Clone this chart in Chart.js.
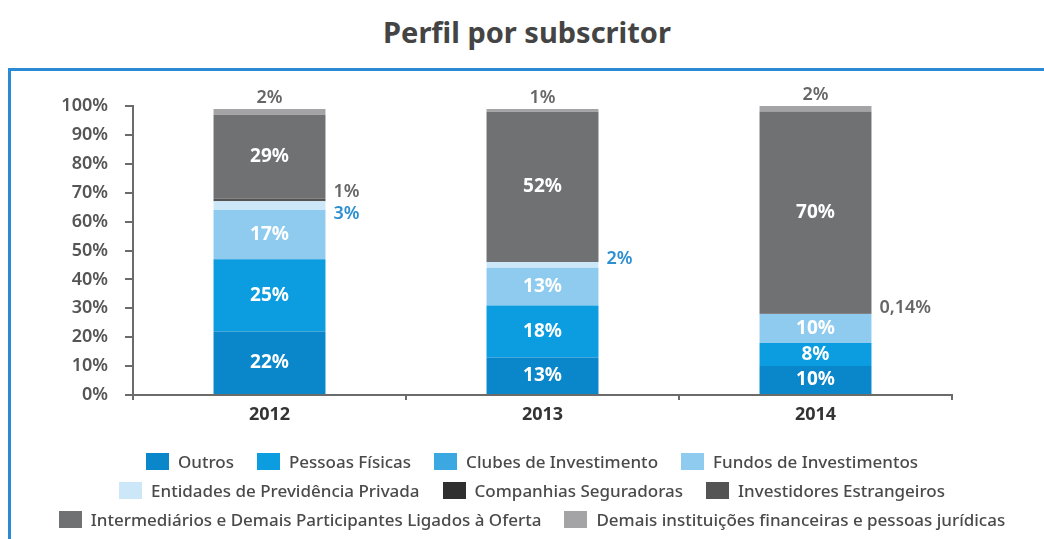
<!DOCTYPE html>
<html>
<head>
<meta charset="utf-8">
<script src="https://cdn.jsdelivr.net/npm/chart.js@4.4.1/dist/chart.umd.min.js"></script>
<style>
  html, body { margin: 0; padding: 0; background: #fff; }
  body { width: 1044px; height: 539px; position: relative; overflow: hidden; font-family: 'Noto Sans', sans-serif; }
  .title { position: absolute; left: 0; width: 1054px; top: 12px; text-align: center; font-size: 29px; font-weight: bold; color: #444; }
  .frame { position: absolute; left: 8px; top: 68px; width: 1100px; height: 600px; border-top: 3px solid #2a8ad3; border-left: 3px solid #2a8ad3; }
  #wrap { position: absolute; left: 0; top: 0; width: 1044px; height: 539px; }
  #legend { position: absolute; left: 37px; top: 453px; width: 990px; display: flex; flex-wrap: wrap; justify-content: center; row-gap: 12px; column-gap: 23px; }
  .item { display: flex; align-items: center; height: 17px; line-height: 17px; font-size: 17px; color: #4a4a4a; font-weight: 500; white-space: nowrap; }
  .box { width: 23px; height: 17px; margin-right: 9px; }
</style>
</head>
<body>
<div class="title">Perfil por subscritor</div>
<div class="frame"></div>
<div id="wrap"><canvas id="chart"></canvas></div>
<div id="legend"></div>
<script>
// data (percent of each year's subscription)
const years = ['2012', '2013', '2014'];
const seriesNames = [
  'Outros',
  'Pessoas Físicas',
  'Clubes de Investimento',
  'Fundos de Investimentos',
  'Entidades de Previdência Privada',
  'Companhias Seguradoras',
  'Investidores Estrangeiros',
  'Intermediários e Demais Participantes Ligados à Oferta',
  'Demais instituições financeiras e pessoas jurídicas'
];
const outros = [22, 13, 10];
const pessoasFisicas = [25, 18, 8];
const clubes = [0, 0, 0];
const fundos = [17, 13, 10];
const entidades = [3, 2, 0];
const seguradoras = [0, 0, 0];
const estrangeiros = [1, 0, 0.14];
const intermediarios = [29, 52, 70];
const demais = [2, 1, 2];
const yTicks = [0, 10, 20, 30, 40, 50, 60, 70, 80, 90, 100];

const seriesValues = [outros, pessoasFisicas, clubes, fundos, entidades, seguradoras, estrangeiros, intermediarios, demais];
const colors = ['#0a86cb', '#0b9ddf', '#3ba8e2', '#8fcbef', '#cce7f8', '#2f2f2f', '#545454', '#707173', '#a4a4a6'];
// colour of the small labels written beside the bars
const sideColors = ['#666', '#666', '#2c8fd1', '#2c8fd1', '#2c8fd1', '#666', '#666', '#666', '#666'];

const FONT = "'Noto Sans', sans-serif";
const fmt = v => String(v).replace('.', ',') + '%';

const valueLabels = {
  id: 'valueLabels',
  afterDatasetsDraw(chart) {
    const ctx = chart.ctx;
    const last = chart.data.datasets.length - 1;
    const side = {};
    ctx.save();
    chart.data.datasets.forEach((ds, i) => {
      chart.getDatasetMeta(i).data.forEach((bar, j) => {
        const v = ds.data[j];
        if (!v) return;
        const mid = (bar.y + bar.base) / 2;
        if (i === last) {
          ctx.font = '600 18px ' + FONT;
          ctx.fillStyle = '#666';
          ctx.textAlign = 'center';
          ctx.textBaseline = 'middle';
          ctx.fillText(fmt(v), bar.x, bar.y - 11);
        } else if (v >= 5) {
          ctx.font = 'bold 19px ' + FONT;
          ctx.fillStyle = '#fff';
          ctx.textAlign = 'center';
          ctx.textBaseline = 'middle';
          ctx.fillText(fmt(v), bar.x, mid);
        } else {
          (side[j] = side[j] || []).push({ text: fmt(v), x: bar.x + bar.width / 2 + 8, y: mid - 6, color: sideColors[i] });
        }
      });
    });
    // spread labels that sit beside the same bar
    Object.values(side).forEach(list => {
      list.sort((a, b) => a.y - b.y);
      if (list.length > 1) {
        const m = list.reduce((s, l) => s + l.y, 0) / list.length + 6;
        list.forEach((l, k) => { l.y = m + (k - (list.length - 1) / 2) * 22; });
      }
      list.forEach(l => {
        ctx.font = '600 18px ' + FONT;
        ctx.fillStyle = l.color;
        ctx.textAlign = 'left';
        ctx.textBaseline = 'middle';
        ctx.fillText(l.text, l.x, l.y);
      });
    });
    ctx.restore();
  }
};

const datasets = seriesNames.map((name, i) => ({
  label: name,
  data: seriesValues[i],
  backgroundColor: colors[i],
  borderWidth: 0,
  barPercentage: 0.41,
  categoryPercentage: 1
}));

const chart = new Chart(document.getElementById('chart'), {
  type: 'bar',
  data: { labels: years, datasets: datasets },
  plugins: [valueLabels],
  options: {
    responsive: true,
    maintainAspectRatio: false,
    animation: false,
    layout: { padding: { left: 10, right: 92, top: 106, bottom: 114 } },
    plugins: {
      legend: { display: false },
      tooltip: { enabled: false }
    },
    scales: {
      x: {
        stacked: true,
        afterFit: s => { s.height = 30; },
        grid: { drawOnChartArea: false, tickLength: 5, color: '#6b6b6b', lineWidth: 2 },
        border: { color: '#6b6b6b', width: 2 },
        ticks: { color: '#333', padding: 4, font: { family: FONT, size: 18, weight: 'bold' } }
      },
      y: {
        stacked: true,
        min: 0,
        max: 100,
        afterFit: s => { s.width = 123; },
        afterBuildTicks: s => { s.ticks = yTicks.map(v => ({ value: v })); },
        grid: { drawOnChartArea: false, tickLength: 8, color: '#6b6b6b', lineWidth: 2 },
        border: { color: '#6b6b6b', width: 2 },
        ticks: {
          color: '#555',
          padding: 17,
          font: { family: FONT, size: 18, weight: '600' },
          callback: v => v + '%'
        }
      }
    }
  }
});

// legend built from the chart's datasets
const legend = document.getElementById('legend');
chart.data.datasets.forEach(ds => {
  const item = document.createElement('div');
  item.className = 'item';
  const box = document.createElement('span');
  box.className = 'box';
  box.style.background = ds.backgroundColor;
  item.appendChild(box);
  item.appendChild(document.createTextNode(ds.label));
  legend.appendChild(item);
});
</script>
</body>
</html>
